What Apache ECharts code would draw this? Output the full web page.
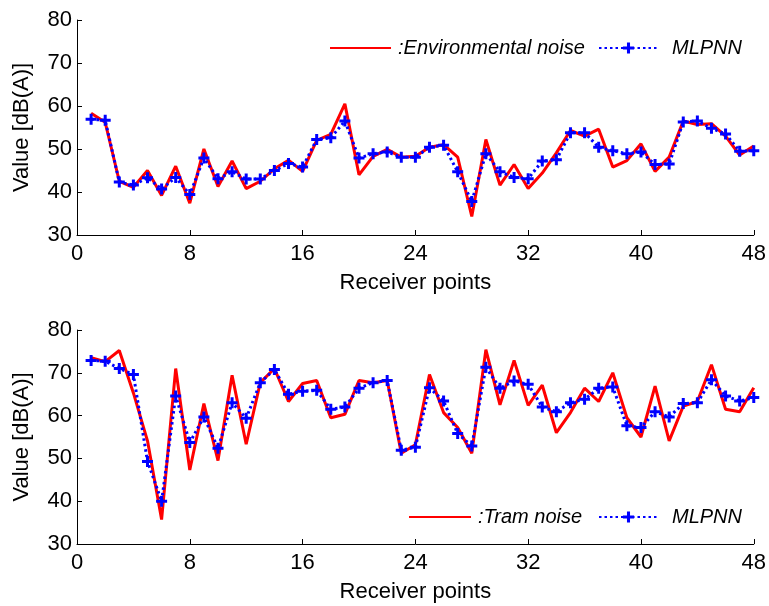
<!DOCTYPE html>
<html>
<head>
<meta charset="utf-8">
<script src="https://cdn.jsdelivr.net/npm/echarts@6/dist/echarts.min.js"></script>
<style>
html,body{margin:0;padding:0;background:#fff;}
#chart{width:769px;height:606px;}
</style>
</head>
<body>
<div id="chart"></div>
<script>
// Receiver points (x positions 1..48)
const receiverPoints = [1,2,3,4,5,6,7,8,9,10,11,12,13,14,15,16,17,18,19,20,21,22,23,24,25,26,27,28,29,30,31,32,33,34,35,36,37,38,39,40,41,42,43,44,45,46,47,48];
const xTicks = [0, 8, 16, 24, 32, 40, 48];
const yTicks = [30, 40, 50, 60, 70, 80];

// Top plot: environmental noise (measured) and MLPNN prediction
const envNoise = [58.3, 56.2, 42.5, 41.1, 45.0, 39.2, 46.0, 37.4, 50.0, 41.3, 47.2, 40.8, 42.5, 45.4, 47.4, 44.8,
  52.0, 53.4, 60.5, 44.0, 48.3, 49.9, 48.1, 48.3, 50.4, 51.0, 48.1, 34.3, 52.2, 41.6, 46.4, 40.8,
  44.4, 49.1, 54.3, 53.0, 54.6, 45.8, 47.3, 51.2, 44.8, 48.1, 56.5, 55.7, 55.9, 53.0, 48.6, 50.7];
const envMLPNN = [56.9, 56.7, 42.3, 41.6, 43.3, 40.7, 43.4, 39.4, 47.9, 43.1, 44.7, 43.0, 43.0, 45.0, 46.6, 45.8,
  52.2, 52.6, 56.5, 47.9, 48.9, 49.3, 48.1, 48.1, 50.4, 50.9, 44.7, 37.8, 48.9, 44.7, 43.4, 43.1,
  47.2, 47.5, 53.8, 53.8, 50.4, 49.6, 48.9, 49.3, 46.4, 46.5, 56.3, 56.5, 54.8, 53.5, 49.5, 49.6];

// Bottom plot: tram noise (measured) and MLPNN prediction
const tramNoise = [73.5, 72.6, 75.2, 65.3, 54.1, 35.7, 71.0, 47.3, 62.8, 49.5, 69.4, 53.3, 67.7, 71.0, 63.3, 67.5,
  68.2, 59.5, 60.3, 68.2, 67.7, 68.2, 51.2, 53.2, 69.6, 60.7, 57.2, 51.2, 75.4, 62.5, 72.9, 62.4,
  67.1, 56.0, 60.7, 66.4, 63.3, 70.0, 59.5, 55.0, 66.9, 54.1, 62.2, 63.3, 71.9, 61.5, 60.9, 66.5];
const tramMLPNN = [72.9, 72.7, 71.0, 69.6, 49.3, 40.0, 64.6, 53.7, 59.7, 52.4, 63.0, 59.4, 67.7, 70.8, 65.0, 65.7,
  65.9, 61.5, 62.0, 66.4, 67.7, 68.2, 51.9, 52.6, 66.5, 63.4, 55.8, 52.9, 71.3, 66.4, 68.1, 67.3,
  62.0, 60.9, 63.0, 63.8, 66.4, 66.7, 57.6, 57.2, 60.9, 59.7, 62.8, 63.0, 68.4, 64.6, 63.4, 64.2];

const topNames = [':Environmental noise', 'MLPNN'];
const bottomNames = [':Tram noise', 'MLPNN '];

const FONT = "'Liberation Sans', Arial, Helvetica, sans-serif";
const plusPath = 'path://M4,0H7V4H11V7H7V11H4V7H0V4H4Z';

function pairs(vals) { return receiverPoints.map((x, i) => [x, vals[i]]); }

function xAxisCfg(gi) {
  return {
    gridIndex: gi, type: 'value', min: xTicks[0], max: xTicks[xTicks.length - 1], interval: 8,
    name: 'Receiver points', nameLocation: 'middle', nameGap: 37,
    nameTextStyle: { fontFamily: FONT, fontSize: 22, color: '#000' },
    axisLine: { onZero: false, lineStyle: { color: '#000', width: 1 } },
    axisTick: { inside: true, length: 5, lineStyle: { color: '#000' } },
    axisLabel: { margin: 8, fontFamily: FONT, fontSize: 22, color: '#000' },
    splitLine: { show: false }
  };
}
function yAxisCfg(gi) {
  return {
    gridIndex: gi, type: 'value', min: yTicks[0], max: yTicks[yTicks.length - 1], interval: 10,
    name: 'Value [dB(A)]', nameLocation: 'middle', nameGap: 44,
    nameTextStyle: { fontFamily: FONT, fontSize: 22, color: '#000' },
    axisLine: { show: true, onZero: false, lineStyle: { color: '#000', width: 1 } },
    axisTick: { show: true, inside: true, length: 5, lineStyle: { color: '#000' } },
    axisLabel: { margin: 5, fontFamily: FONT, fontSize: 22, color: '#000' },
    splitLine: { show: false }
  };
}
function redSeries(name, gi, vals) {
  return {
    name: name, type: 'line', xAxisIndex: gi, yAxisIndex: gi, data: pairs(vals),
    symbol: 'none', showSymbol: false, animation: false, z: 2,
    lineStyle: { color: '#ff0000', width: 3 }, itemStyle: { color: '#ff0000' }
  };
}
function blueSeries(name, gi, vals) {
  return {
    name: name, type: 'line', xAxisIndex: gi, yAxisIndex: gi, data: pairs(vals),
    symbol: plusPath, symbolSize: 11, showSymbol: true, animation: false, z: 3,
    lineStyle: { color: '#0000ff', width: 3, type: [2.5, 3] }, itemStyle: { color: '#0000ff' }
  };
}
function legendCfg(name, left, top, w, padLeft, hideSymbol) {
  const cfg = {
    data: [name], left: left, top: top, itemWidth: w, itemHeight: 14, padding: 0, orient: 'horizontal',
    selectedMode: false,
    textStyle: { fontFamily: FONT, fontSize: 20, fontStyle: 'italic', color: '#000', padding: [0, 0, 0, padLeft] }
  };
  if (hideSymbol) cfg.itemStyle = { opacity: 0 };
  return cfg;
}

const chart = echarts.init(document.getElementById('chart'), null, { renderer: 'canvas' });
chart.setOption({
  backgroundColor: '#fff',
  animation: false,
  grid: [
    { left: 77, right: 15, top: 20, height: 215 },
    { left: 77, right: 15, top: 330, height: 214 }
  ],
  xAxis: [xAxisCfg(0), xAxisCfg(1)],
  yAxis: [yAxisCfg(0), yAxisCfg(1)],
  legend: [
    legendCfg(topNames[0], 329, 38, 61, 2, true),
    legendCfg(topNames[1], 598, 38, 59, 9, false),
    legendCfg(bottomNames[0], 408, 507, 62, 2, true),
    legendCfg(bottomNames[1], 598, 507, 59, 9, false)
  ],
  series: [
    redSeries(topNames[0], 0, envNoise),
    blueSeries(topNames[1], 0, envMLPNN),
    redSeries(bottomNames[0], 1, tramNoise),
    blueSeries(bottomNames[1], 1, tramMLPNN)
  ]
});
</script>
</body>
</html>
